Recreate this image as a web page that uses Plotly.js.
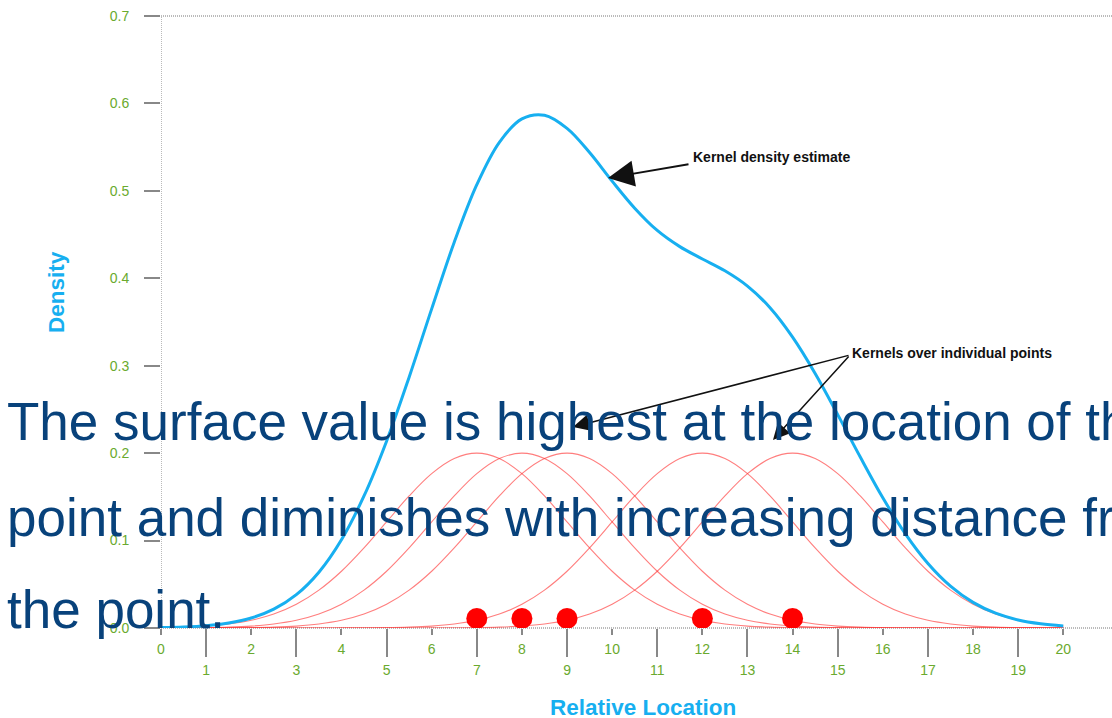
<!DOCTYPE html>
<html>
<head>
<meta charset="utf-8">
<script src="https://cdn.plot.ly/plotly-3.0.1.min.js"></script>
<style>html,body{margin:0;padding:0;background:#fff;}#chart{width:1112px;height:718px;}</style>
</head>
<body>
<div id="chart"></div>
<script>
// ---- data ----
var xGrid = [0,0.5,1,1.5,2,2.5,3,3.5,4,4.5,5,5.5,6,6.5,7,7.5,8,8.5,9,9.5,10,10.5,11,11.5,12,12.5,13,13.5,14,14.5,15,15.5,16,16.5,17,17.5,18,18.5,19,19.5,20];

var kdeY = [0.0005,0.0012,0.0027,0.0058,0.0114,0.0215,0.0381,0.0638,0.1009,0.1510,0.2137,0.2869,0.3650,0.4412,0.5070,0.5555,0.5823,0.5865,0.5715,0.5439,0.5111,0.4802,0.4547,0.4362,0.4221,0.4086,0.3911,0.3663,0.3327,0.2912,0.2441,0.1955,0.1489,0.1077,0.0738,0.0479,0.0293,0.0169,0.0092,0.0048,0.0023];

var kernel7 = [0.0004,0.0010,0.0022,0.0046,0.0088,0.0159,0.0271,0.0433,0.0649,0.0916,0.1213,0.1510,0.1765,0.1938,0.2000,0.1938,0.1765,0.1510,0.1213,0.0916,0.0649,0.0433,0.0271,0.0159,0.0088,0.0046,0.0022,0.0010,0.0004,0.0002,0.0001,0,0,0,0,0,0,0,0,0,0];
var kernel8 = [0.0001,0.0002,0.0004,0.0010,0.0022,0.0046,0.0088,0.0159,0.0271,0.0433,0.0649,0.0916,0.1213,0.1510,0.1765,0.1938,0.2000,0.1938,0.1765,0.1510,0.1213,0.0916,0.0649,0.0433,0.0271,0.0159,0.0088,0.0046,0.0022,0.0010,0.0004,0.0002,0.0001,0,0,0,0,0,0,0,0];
var kernel9 = [0,0,0.0001,0.0002,0.0004,0.0010,0.0022,0.0046,0.0088,0.0159,0.0271,0.0433,0.0649,0.0916,0.1213,0.1510,0.1765,0.1938,0.2000,0.1938,0.1765,0.1510,0.1213,0.0916,0.0649,0.0433,0.0271,0.0159,0.0088,0.0046,0.0022,0.0010,0.0004,0.0002,0.0001,0,0,0,0,0,0];
var kernel12 = [0,0,0,0,0,0,0,0,0.0001,0.0002,0.0004,0.0010,0.0022,0.0046,0.0088,0.0159,0.0271,0.0433,0.0649,0.0916,0.1213,0.1510,0.1765,0.1938,0.2000,0.1938,0.1765,0.1510,0.1213,0.0916,0.0649,0.0433,0.0271,0.0159,0.0088,0.0046,0.0022,0.0010,0.0004,0.0002,0.0001];
var kernel14 = [0,0,0,0,0,0,0,0,0,0,0,0,0.0001,0.0002,0.0004,0.0010,0.0022,0.0046,0.0088,0.0159,0.0271,0.0433,0.0649,0.0916,0.1213,0.1510,0.1765,0.1938,0.2000,0.1938,0.1765,0.1510,0.1213,0.0916,0.0649,0.0433,0.0271,0.0159,0.0088,0.0046,0.0022];

var pointsX = [7, 8, 9, 12, 14];
var pointsY = [0.011, 0.011, 0.011, 0.011, 0.011];

var evenTicks = [0,2,4,6,8,10,12,14,16,18,20];
var oddTicks = [1,3,5,7,9,11,13,15,17,19];
var yTicks = [0,0.1,0.2,0.3,0.4,0.5,0.6,0.7];

var xTitle = "Relative Location";
var yTitle = "Density";
var label1 = "Kernel density estimate";
var label2 = "Kernels over individual points";
var bodyLines = [
  "The surface value is highest at the location of the",
  "point and diminishes with increasing distance from",
  "the point."
];

// ---- drawing ----
var kernelColor = "rgba(255,40,40,0.6)";
var blue = "#17aff0";
var green = "#6aaa2e";
var font = "Arial, 'Liberation Sans', sans-serif";

var kernels = [kernel7, kernel8, kernel9, kernel12, kernel14];
var traces = kernels.map(function (k) {
  return {x: xGrid, y: k, type: "scatter", mode: "lines",
          line: {color: kernelColor, width: 1.1, shape: "spline"},
          hoverinfo: "skip", showlegend: false};
});
traces.push({x: xGrid, y: kdeY, type: "scatter", mode: "lines",
             line: {color: blue, width: 3, shape: "spline"}, showlegend: false});
traces.push({x: pointsX, y: pointsY, type: "scatter", mode: "markers",
             marker: {color: "#ff0000", size: 21}, showlegend: false});
// invisible trace to carry the odd-tick axis
traces.push({x: oddTicks, y: oddTicks.map(function(){return null;}), xaxis: "x2", yaxis: "y",
             type: "scatter", mode: "markers", hoverinfo: "skip", showlegend: false});

var xr = [0, 21.08];
var pxX = function (px) { return (px - 161) / (951 / xr[1]); };
var pxY = function (py) { return (628 - py) / (612 / 0.7); };
var paperX = function (px) { return (px - 161) / 951; };
var paperY = function (py) { return (628 - py) / 612; };

var annotations = [
  {x: pxX(608), y: pxY(178), ax: pxX(690), ay: pxY(164), axref: "x", ayref: "y",
   xref: "x", yref: "y", text: "", showarrow: true, arrowhead: 2, arrowsize: 2.9,
   arrowwidth: 1.8, arrowcolor: "#111"},
  {x: pxX(573), y: pxY(427), ax: pxX(850), ay: pxY(355), axref: "x", ayref: "y",
   xref: "x", yref: "y", text: "", showarrow: true, arrowhead: 2, arrowsize: 2.2,
   arrowwidth: 1.5, arrowcolor: "#111"},
  {x: pxX(773), y: pxY(440), ax: pxX(850), ay: pxY(355), axref: "x", ayref: "y",
   xref: "x", yref: "y", text: "", showarrow: true, arrowhead: 2, arrowsize: 2.2,
   arrowwidth: 1.5, arrowcolor: "#111"},
  {x: pxX(691), y: pxY(157), xref: "x", yref: "y", xanchor: "left", yanchor: "middle",
   text: "<b>" + label1 + "</b>", showarrow: false,
   font: {family: font, size: 14, color: "#111"}},
  {x: pxX(850), y: pxY(353), xref: "x", yref: "y", xanchor: "left", yanchor: "middle",
   text: "<b>" + label2 + "</b>", showarrow: false,
   font: {family: font, size: 14, color: "#111"}},
  {x: paperX(57), y: paperY(292), xref: "paper", yref: "paper", textangle: -90,
   xanchor: "center", yanchor: "middle",
   text: "<b>" + yTitle + "</b>", showarrow: false,
   font: {family: font, size: 22.5, color: blue}},
  {x: paperX(643), y: paperY(707), xref: "paper", yref: "paper",
   xanchor: "center", yanchor: "middle",
   text: "<b>" + xTitle + "</b>", showarrow: false,
   font: {family: font, size: 22.5, color: blue}}
];
var lineCenters = [421, 517, 609];
bodyLines.forEach(function (t, i) {
  annotations.push({x: paperX(5), y: paperY(lineCenters[i]), xref: "paper", yref: "paper",
    xanchor: "left", yanchor: "middle", text: t, showarrow: false,
    font: {family: font, size: 53, color: "#08427b"}});
});

var dotted = {color: "#777", width: 1, dash: "1px,1px"};
var layout = {
  width: 1112, height: 718,
  margin: {l: 161, r: 0, t: 16, b: 90, pad: 0},
  paper_bgcolor: "#fff", plot_bgcolor: "#fff",
  showlegend: false,
  font: {family: font},
  xaxis: {range: xr, tickvals: evenTicks, ticktext: evenTicks.map(String),
          ticks: "outside", ticklen: 6, tickwidth: 2, tickcolor: "#888",
          showgrid: false, zeroline: false, showline: false,
          tickfont: {family: font, size: 14, color: green}, ticklabelstandoff: 2},
  xaxis2: {range: xr, overlaying: "x", anchor: "y", side: "bottom",
           tickvals: oddTicks, ticktext: oddTicks.map(String),
           ticks: "outside", ticklen: 28, tickwidth: 2, tickcolor: "#888",
           showgrid: false, zeroline: false, showline: false,
           tickfont: {family: font, size: 14, color: green}, ticklabelstandoff: 1},
  yaxis: {range: [0, 0.7], tickvals: yTicks, tickformat: ".1f",
          ticks: "outside", ticklen: 16, tickwidth: 2, tickcolor: "#888",
          showgrid: false, zeroline: false, showline: false,
          tickfont: {family: font, size: 14, color: green}, ticklabelstandoff: 12},
  shapes: [
    {type: "line", xref: "x", yref: "paper", x0: 0, x1: 0, y0: 0, y1: 1, line: dotted, layer: "below"},
    {type: "line", xref: "x", yref: "paper", x0: 0, x1: xr[1], y0: 1, y1: 1, line: dotted, layer: "below"},
    {type: "line", xref: "x", yref: "paper", x0: 0, x1: xr[1], y0: 0, y1: 0, line: dotted, layer: "below"}
  ],
  annotations: annotations
};

Plotly.newPlot("chart", traces, layout, {staticPlot: true, displayModeBar: false});
</script>
</body>
</html>
